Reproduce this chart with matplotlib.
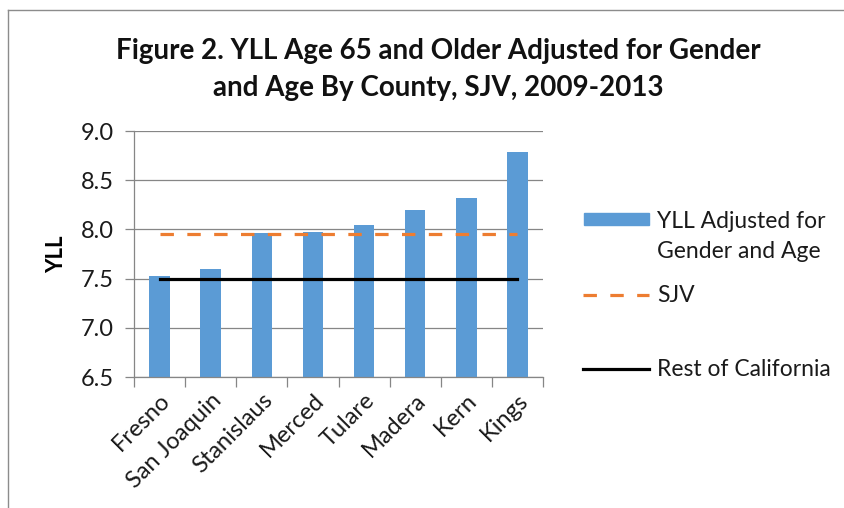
import matplotlib
matplotlib.use("Agg")
import matplotlib.pyplot as plt
from matplotlib.lines import Line2D
from matplotlib.patches import Rectangle

plt.rcParams['font.family'] = ['Lato', 'DejaVu Sans']

counties = ["Fresno", "San Joaquin", "Stanislaus", "Merced", "Tulare", "Madera", "Kern", "Kings"]
yll = [7.53, 7.60, 7.96, 7.97, 8.04, 8.20, 8.32, 8.79]
sjv = 7.95
rest_ca = 7.50
y_ticks = [6.5, 7.0, 7.5, 8.0, 8.5, 9.0]

bar_color = "#5B9BD5"
sjv_color = "#ED7D31"
grid_color = "#868686"
text_color = "#1a1a1a"

W, H = 844, 508
fig = plt.figure(figsize=(W / 100, H / 100), dpi=100)
ax = fig.add_axes([134 / W, 1 - 377 / H, (543 - 134) / W, (377 - 131) / H])

x = list(range(len(counties)))
ax.bar(x, yll, width=0.4, color=bar_color, zorder=2)
ax.plot([x[0], x[-1]], [sjv, sjv], color=sjv_color, linewidth=2.3,
        linestyle=(0, (4.2, 4.2)), zorder=3)
ax.plot([x[0], x[-1]], [rest_ca, rest_ca], color="black", linewidth=2.3, zorder=3)

ax.set_xlim(-0.5, len(counties) - 0.5)
ax.set_ylim(6.5, 9.0)
ax.set_yticks(y_ticks)
ax.set_yticklabels([f"{v:.1f}" for v in y_ticks], fontsize=17, color=text_color)
ax.yaxis.grid(True, color=grid_color, linewidth=0.9, zorder=0)
ax.set_axisbelow(True)

# category labels at centres, tick marks at the boundaries
ax.set_xticks(x)
ax.set_xticklabels(counties, rotation=45, ha="right", rotation_mode="anchor",
                   fontsize=17, color=text_color)
ax.tick_params(axis="x", length=0, pad=9)
ax.set_xticks([i - 0.5 for i in range(len(counties) + 1)], minor=True)
ax.tick_params(axis="x", which="minor", length=7, color=grid_color, width=0.9)
ax.tick_params(axis="y", length=6.5, color=grid_color, width=0.9, pad=8)

for side in ["top", "right"]:
    ax.spines[side].set_visible(False)
for side in ["left", "bottom"]:
    ax.spines[side].set_color(grid_color)
    ax.spines[side].set_linewidth(0.9)

ax.set_ylabel("YLL", fontsize=16, fontweight="bold", labelpad=10)

fig.text(438 / W, 1 - 51 / H, "Figure 2. YLL Age 65 and Older Adjusted for Gender",
         ha="center", va="center", fontsize=20, fontweight="bold", color="#111111")
fig.text(438 / W, 1 - 88 / H, "and Age By County, SJV, 2009-2013",
         ha="center", va="center", fontsize=20, fontweight="bold", color="#111111")

# legend drawn by hand to keep Excel's uneven spacing
fig.add_artist(Rectangle((584 / W, 1 - 225 / H), 65 / W, 12 / H,
                         transform=fig.transFigure, color=bar_color))
fig.text(657 / W, 1 - 221 / H, "YLL Adjusted for", va="center", fontsize=16.5, color=text_color)
fig.text(657 / W, 1 - 251 / H, "Gender and Age", va="center", fontsize=16.5, color=text_color)
fig.add_artist(Line2D([583 / W, 649 / W], [1 - 295 / H, 1 - 295 / H], transform=fig.transFigure,
                      color=sjv_color, linewidth=2.3, linestyle=(0, (4.2, 4.2))))
fig.text(657 / W, 1 - 295 / H, "SJV", va="center", fontsize=16.5, color=text_color)
fig.add_artist(Line2D([583 / W, 649 / W], [1 - 369 / H, 1 - 369 / H], transform=fig.transFigure,
                      color="black", linewidth=2.3))
fig.text(657 / W, 1 - 369 / H, "Rest of California", va="center", fontsize=16.5, color=text_color)

# chart frame (only the top and left edges are in view)
fig.add_artist(Line2D([8 / W, 8 / W], [0, 1 - 10 / H], transform=fig.transFigure,
                      color="#8c8c8c", linewidth=1))
fig.add_artist(Line2D([8 / W, 1], [1 - 10 / H, 1 - 10 / H], transform=fig.transFigure,
                      color="#8c8c8c", linewidth=1))

fig.savefig("out.png", dpi=100)
